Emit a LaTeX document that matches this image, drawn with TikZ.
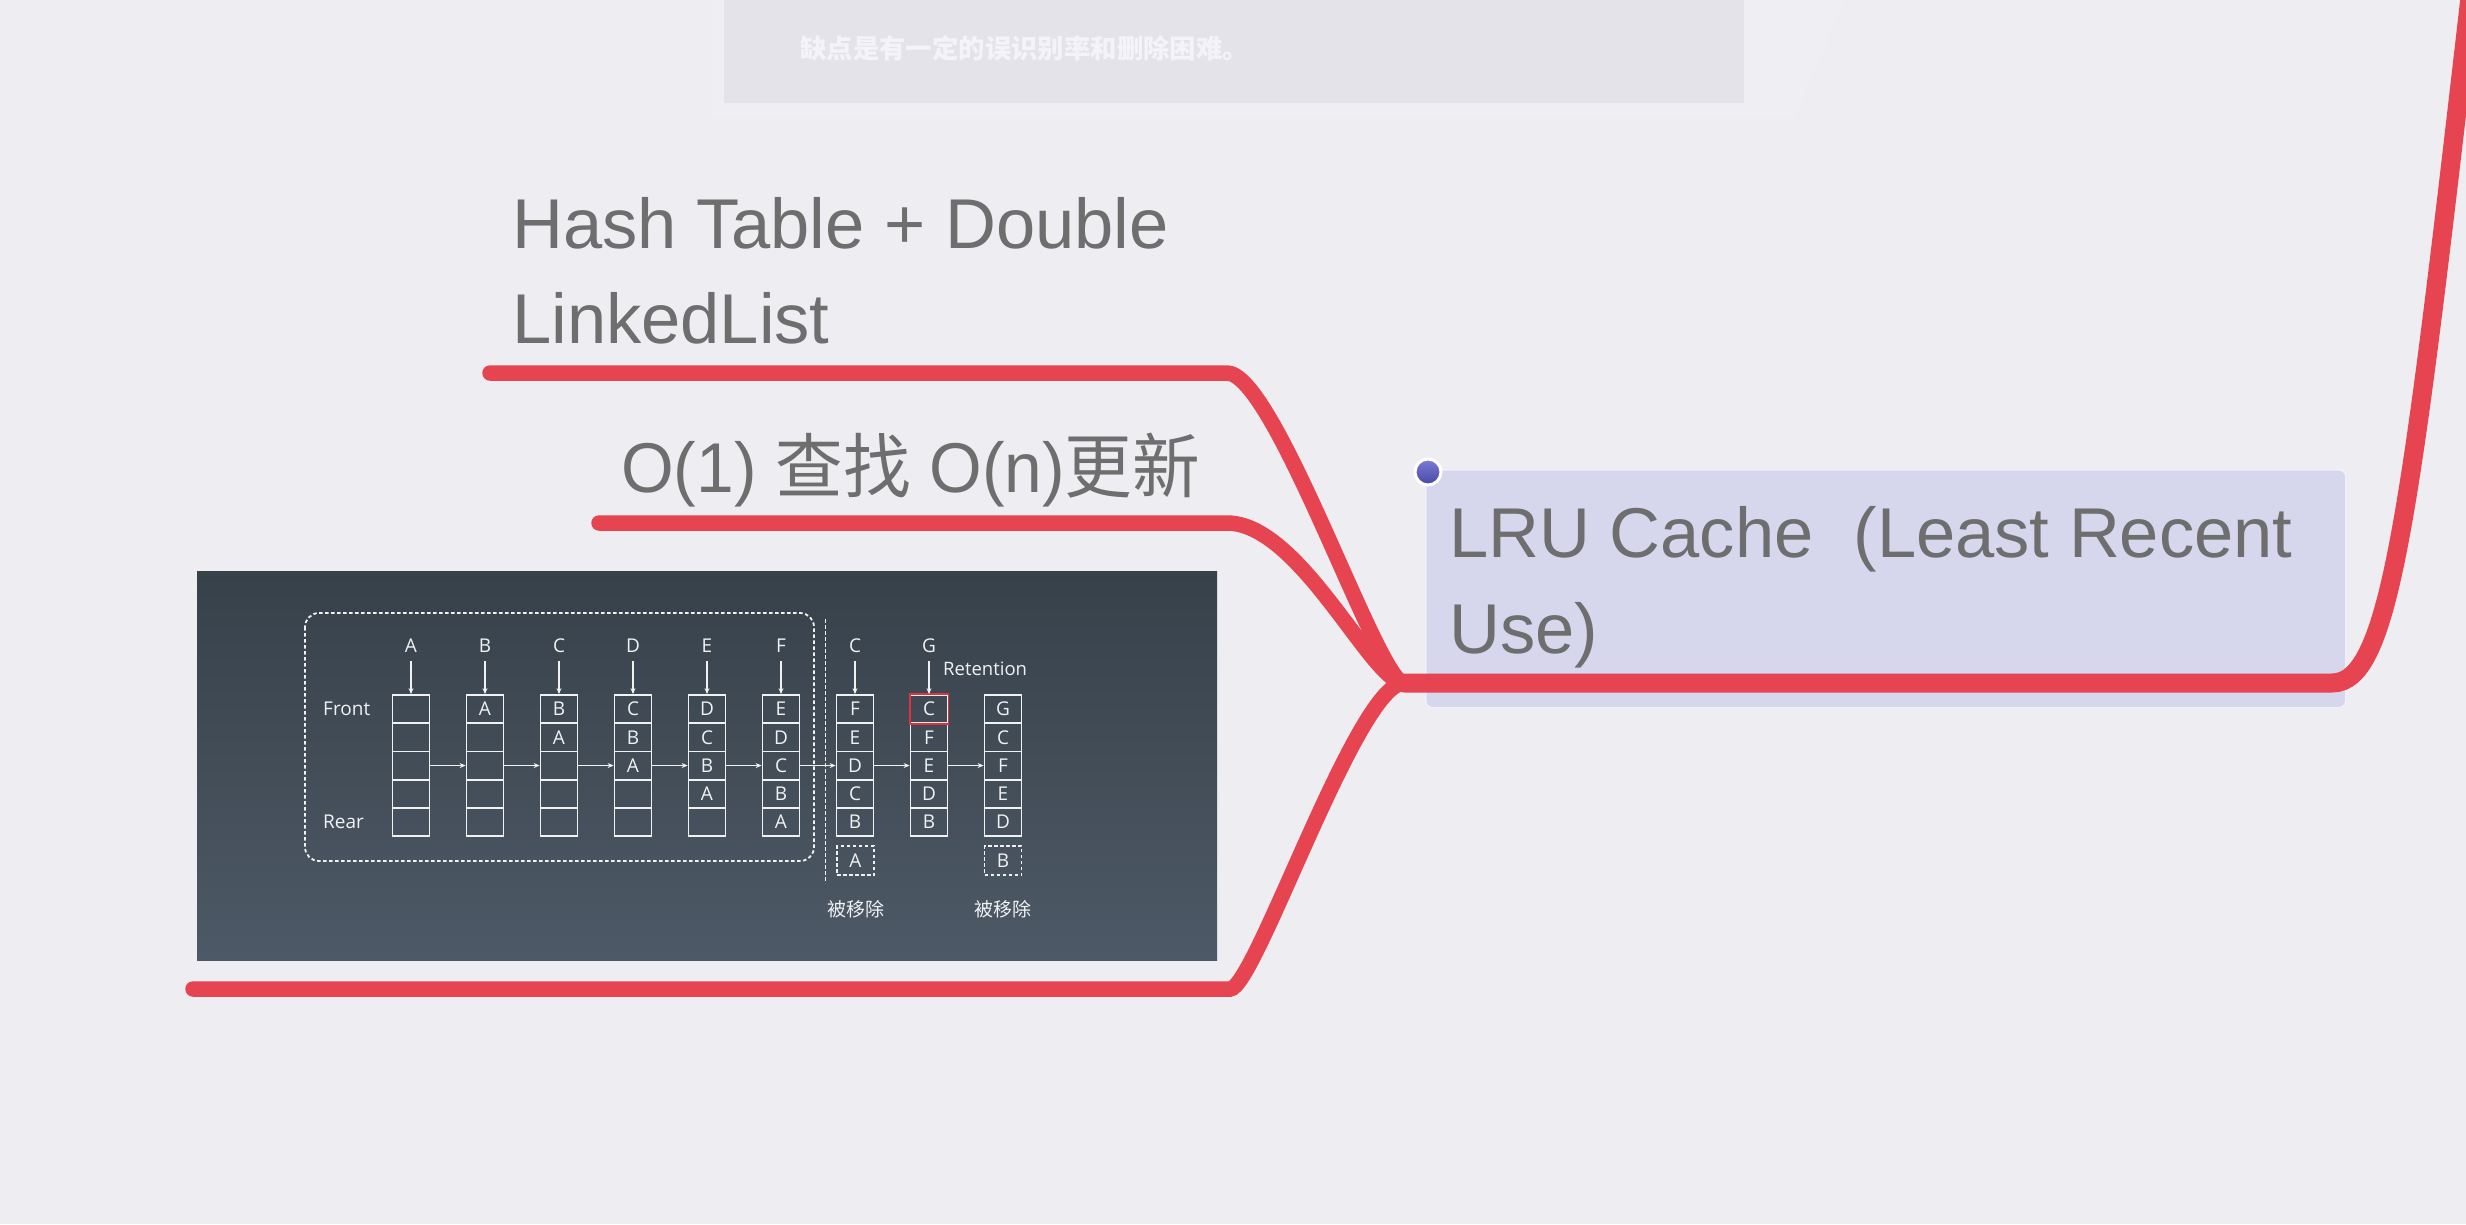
\documentclass[tikz,border=0pt]{standalone}
\usepackage{fontspec}
\setmainfont{Liberation Sans}
\newfontfamily\cjk{Noto Sans CJK SC}
\newfontfamily\segoe{Open Sans}
\usetikzlibrary{arrows.meta}
\definecolor{bg}{RGB}{238,237,242}
\definecolor{shadowc}{RGB}{239,238,243}
\definecolor{topbox}{RGB}{228,227,233}
\definecolor{toptext}{RGB}{244,243,247}
\definecolor{redline}{RGB}{229,68,80}
\definecolor{lrufill}{RGB}{214,214,236}
\definecolor{lruborder}{RGB}{240,240,248}
\definecolor{txtgray}{RGB}{110,110,110}
\definecolor{imgtop}{RGB}{55,65,74}
\definecolor{imgbot}{RGB}{77,89,102}
\definecolor{cellred}{RGB}{226,48,60}
\definecolor{dottop}{RGB}{125,125,214}
\definecolor{dotbot}{RGB}{70,70,165}
\definecolor{imgwhite}{RGB}{240,241,243}
\newcommand\lrucol[2]{%
  \foreach \c [count=\j] in {#2} {
    \node[cell] (c#1-\j) at ({337+74*#1},{680.9+28.2*\j}) {\c};
  }%
}
\begin{document}
\begin{tikzpicture}[x=1pt,y=-1pt,
  branch/.style={draw=redline, line width=15.5pt, line cap=round},
  mainline/.style={draw=redline, line width=19pt, line cap=round},
  bigtext/.style={anchor=base west, inner sep=0pt, text=txtgray, font=\fontsize{70.5}{80}\selectfont},
  cell/.style={draw=imgwhite, line width=1.8pt, minimum width=37pt, minimum height=28.2pt, inner sep=0pt, text=imgwhite, font=\segoe\fontsize{19}{22}\selectfont},
  imgtext/.style={text=imgwhite, inner sep=0pt, font=\segoe\fontsize{19}{22}\selectfont},
  darr/.style={draw=imgwhite, line width=1.6pt, -{Stealth[length=6pt,width=5pt]}},
  dashbox/.style={draw=imgwhite, line width=1.8pt, dash pattern=on 3.5pt off 2.5pt},
]
\fill[bg] (0,0) rectangle (2466,1224);
\useasboundingbox (0,0) rectangle (2466,1224);

% faint shadow and top box
\fill[shadowc] (712,0) -- (1845,0) -- (1795,118) -- (712,118) -- cycle;
\node (topbox) [anchor=north west, minimum width=1020pt, minimum height=113pt, inner sep=0pt, fill=topbox] at (724,-10) {};
\node (toptxt) [anchor=west, inner sep=0pt, text=toptext, font=\cjk\bfseries\fontsize{26.4}{30}\selectfont] at (800,48) {缺点是有一定的误识别率和删除困难。};

% LRU node
\node (lru) [anchor=north west, minimum width=920pt, minimum height=238pt, inner sep=0pt, fill=lrufill, draw=lruborder, line width=1.5pt, rounded corners=7pt] at (1425,469) {};
\node (dot) [circle, draw=white, line width=3pt, top color=dottop, bottom color=dotbot, minimum size=26pt, inner sep=0pt] at (1428,472) {};
\node[bigtext] (lru1) at (1449,557) {LRU Cache\hspace{40pt}(Least Recent};
\node[bigtext] (lru2) at (1449,653) {Use)};

% texts of branches
\node[bigtext] (hash1) at (512,248) {Hash Table + Double};
\node[bigtext] (hash2) at (512,343) {LinkedList};
\node[bigtext] (onupd) at (621,492) {\scalebox{0.96}[1]{O(1) {\cjk 查找} O(n){\cjk 更新}}};

% connectors
\coordinate (J) at (1404,683);
\coordinate (hashL) at (490,373);
\coordinate (onL) at (599,523);
\coordinate (imgL) at (193,989);
\draw[mainline] (J) -- (2332,683) .. controls (2390,683) and (2410,520) .. (2472,-20);
\draw[branch] (hashL) -- (1227,373) .. controls (1275,373) and (1378,683) .. (J);
\draw[branch] (onL) -- (1227,523) .. controls (1300,523) and (1372,683) .. (J);
\draw[branch] (imgL) -- (1230,989) .. controls (1255,989) and (1357,683) .. (J);

% image
\node (img) [anchor=north west, minimum width=1020pt, minimum height=389pt, inner sep=0pt, top color=imgtop, bottom color=imgbot] at (197,571) {};
\draw[dashbox, rounded corners=14pt] (305,613) rectangle (814,861);
\draw[dashbox] (825.5,619) -- (825.5,883);

\lrucol{1}{{},{},{},{},{}}
\lrucol{2}{A,{},{},{},{}}
\lrucol{3}{B,A,{},{},{}}
\lrucol{4}{C,B,A,{},{}}
\lrucol{5}{D,C,B,A,{}}
\lrucol{6}{E,D,C,B,A}
\lrucol{7}{F,E,D,C,B}
\lrucol{8}{C,F,E,D,B}
\lrucol{9}{G,C,F,E,D}
\draw[draw=cellred, line width=1.8pt] (c8-1.north west) rectangle (c8-1.south east);

\foreach \i/\l in {1/A,2/B,3/C,4/D,5/E,6/F,7/C,8/G} {
  \node[imgtext] (top\i) at ({337+74*\i},646) {\l};
  \draw[darr] ([yshift=-8pt]top\i.south) -- (c\i-1.north);
}
\foreach \i [evaluate=\i as \n using int(\i+1)] in {1,...,8} {
  \draw[darr] (c\i-3.east) -- (c\n-3.west);
}
\node[imgtext, anchor=west] (front) at (323,709) {Front};
\node[imgtext, anchor=west] (rear) at (323,822) {Rear};
\node[imgtext, anchor=west, font=\segoe\fontsize{18.5}{22}\selectfont] (ret) at (943,669) {Retention};
\node[cell, dashbox, minimum height=29pt] (remA) at (855.5,860.5) {A};
\node[cell, dashbox, minimum height=29pt] (remB) at (1003,860.5) {B};
\node[imgtext, font=\cjk\fontsize{19}{22}\selectfont] (rm1) at (855.5,909) {被移除};
\node[imgtext, font=\cjk\fontsize{19}{22}\selectfont] (rm2) at (1003,909) {被移除};
\end{tikzpicture}
\end{document}
